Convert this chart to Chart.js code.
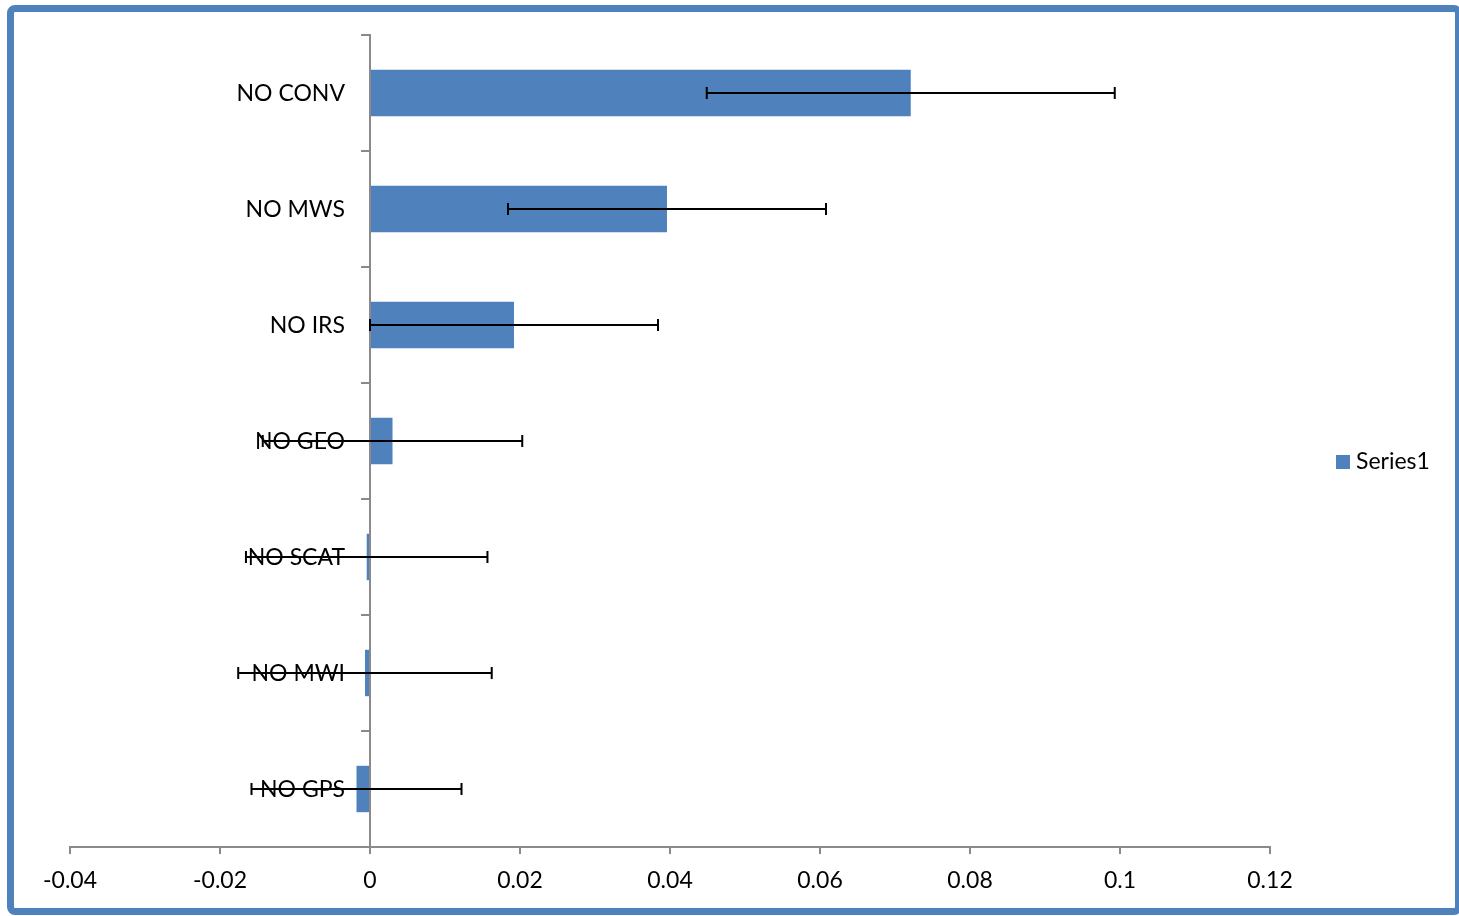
<!DOCTYPE html>
<html>
<head>
<meta charset="utf-8">
<script src="https://cdn.jsdelivr.net/npm/chart.js@4.4.1/dist/chart.umd.min.js"></script>
<style>
  html, body { margin: 0; padding: 0; background: #fff; overflow: hidden; }
  #wrap { position: relative; width: 1459px; height: 916px; }
  #frame { position: absolute; left: 7px; top: 5px; width: 1455px; height: 910px; box-sizing: border-box;
           border: 7px solid #4F81BD; border-radius: 8px; pointer-events: none; }
  canvas { position: absolute; left: 0; top: 0; }
</style>
</head>
<body>
<div id="wrap">
  <canvas id="c" width="1459" height="916"></canvas>
  <div id="frame"></div>
</div>
<script>
const categories = ['NO CONV', 'NO MWS', 'NO IRS', 'NO GEO', 'NO SCAT', 'NO MWI', 'NO GPS'];
const values = [0.0721, 0.0396, 0.0192, 0.0030, -0.00044, -0.00067, -0.0018];
const errors = [0.0272, 0.0212, 0.0192, 0.0173, 0.0161, 0.0169, 0.0140];
const xTickValues = [-0.04, -0.02, 0, 0.02, 0.04, 0.06, 0.08, 0.1, 0.12];
const xTickLabels = ['-0.04', '-0.02', '0', '0.02', '0.04', '0.06', '0.08', '0.1', '0.12'];
const seriesName = 'Series1';

const FONT = 'Lato';
const AXIS_COLOR = '#8a8a8a';
const BAR_COLOR = '#4F81BD';

// category labels drawn to the left of the y axis (which sits at x = 0)
const categoryLabels = {
  id: 'categoryLabels',
  beforeDatasetsDraw(chart) {
    const ctx = chart.ctx, xs = chart.scales.x, ys = chart.scales.y;
    const xRight = xs.getPixelForValue(0) - 25;
    ctx.save();
    ctx.fillStyle = '#000';
    ctx.font = '23px ' + FONT;
    ctx.textAlign = 'right';
    ctx.textBaseline = 'middle';
    chart.data.labels.forEach((lab, i) => {
      ctx.fillText(lab, xRight, ys.getPixelForValue(i) + 1);
    });
    ctx.restore();
  }
};

const errorBars = {
  id: 'errorBars',
  afterDatasetsDraw(chart) {
    const ctx = chart.ctx, xs = chart.scales.x, ys = chart.scales.y;
    ctx.save();
    ctx.strokeStyle = '#000';
    ctx.lineWidth = 2;
    values.forEach((v, i) => {
      const y = ys.getPixelForValue(i);
      const x1 = xs.getPixelForValue(v - errors[i]);
      const x2 = xs.getPixelForValue(v + errors[i]);
      ctx.beginPath();
      ctx.moveTo(x1, y); ctx.lineTo(x2, y);
      ctx.moveTo(x1, y - 6); ctx.lineTo(x1, y + 6);
      ctx.moveTo(x2, y - 6); ctx.lineTo(x2, y + 6);
      ctx.stroke();
    });
    ctx.restore();
  }
};

const customLegend = {
  id: 'customLegend',
  afterDraw(chart) {
    const ctx = chart.ctx;
    ctx.save();
    ctx.fillStyle = BAR_COLOR;
    ctx.fillRect(1336, 455, 14, 14);
    ctx.fillStyle = '#000';
    ctx.font = '23px ' + FONT;
    ctx.textBaseline = 'middle';
    ctx.textAlign = 'left';
    ctx.fillText(chart.data.datasets[0].label, 1356, 462);
    ctx.restore();
  }
};

new Chart(document.getElementById('c'), {
  type: 'bar',
  data: {
    labels: categories,
    datasets: [{
      label: seriesName,
      data: values,
      backgroundColor: BAR_COLOR,
      borderWidth: 0,
      barPercentage: 0.4,
      categoryPercentage: 1.0
    }]
  },
  options: {
    indexAxis: 'y',
    responsive: false,
    animation: false,
    events: [],
    layout: { padding: { left: 70, right: 189, top: 35, bottom: 9 } },
    plugins: { legend: { display: false }, tooltip: { enabled: false } },
    scales: {
      x: {
        type: 'linear',
        min: -0.04, max: 0.12,
        afterBuildTicks(scale) { scale.ticks = xTickValues.map(v => ({ value: v })); },
        afterFit(scale) { scale.height = 60; },
        ticks: {
          color: '#000',
          font: { family: FONT, size: 23 },
          padding: 13,
          maxRotation: 0,
          callback(value, index) { return xTickLabels[index]; }
        },
        grid: { display: true, drawOnChartArea: false, drawTicks: true, tickLength: 7, color: AXIS_COLOR, lineWidth: 2 },
        border: { display: true, color: AXIS_COLOR, width: 2 }
      },
      y: {
        type: 'category',
        position: { x: 0 },
        offset: true,
        ticks: { display: false },
        grid: { display: true, offset: true, drawOnChartArea: false, drawTicks: true, tickLength: 8, color: AXIS_COLOR, lineWidth: 2 },
        border: { display: true, color: AXIS_COLOR, width: 2 }
      }
    }
  },
  plugins: [categoryLabels, errorBars, customLegend]
});
</script>
</body>
</html>
